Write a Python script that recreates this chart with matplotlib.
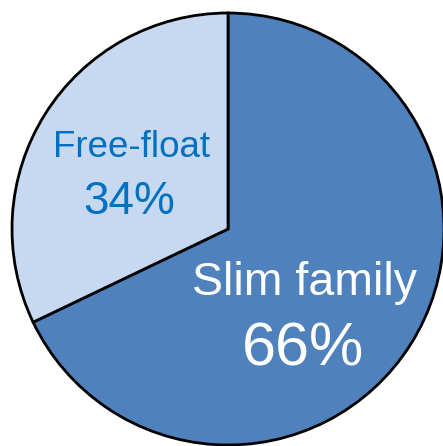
import matplotlib
matplotlib.use("Agg")
import matplotlib.pyplot as plt

plt.rcParams['font.family'] = ['Liberation Sans', 'DejaVu Sans']

# Datos del grafico
categorias = ['Slim family', 'Free-float']
porcentajes = ['66%', '34%']
# proporcion de los sectores tal como se dibujan
sectores = [67.9, 32.1]
colores = ['#4F81BD', '#C6D9F0']

fig = plt.figure(figsize=(4.43, 4.46), dpi=100)
ax = fig.add_axes([0, 0, 1, 1])

# centro en pixel (228, 229), radio 216
cx, cy, r = 228.0, 229.0, 216.0
W, H = 443.0, 446.0

ax.pie(sectores, colors=colores, startangle=90, counterclock=False,
       radius=1, wedgeprops={'edgecolor': 'black', 'linewidth': 2.0},
       frame=True)
ax.axis('off')
ax.set_aspect('equal')
ax.set_xlim(-cx / r, (W - cx) / r)
ax.set_ylim(-(H - cy) / r, cy / r)


def pos(px, py):
    return (px - cx) / r, (cy - py) / r


# etiquetas
x, y = pos(132, 157)
ax.text(x, y, categorias[1], color='#0070C0', fontsize=26.5,
        ha='center', va='baseline')
x, y = pos(129, 214)
ax.text(x, y, porcentajes[1], color='#0070C0', fontsize=33,
        ha='center', va='baseline')
x, y = pos(305, 295)
ax.text(x, y, categorias[0], color='white', fontsize=33.5,
        ha='center', va='baseline')
x, y = pos(303, 365)
ax.text(x, y, porcentajes[0], color='white', fontsize=44,
        ha='center', va='baseline')

fig.savefig('out.png', dpi=100)
plt.close()
